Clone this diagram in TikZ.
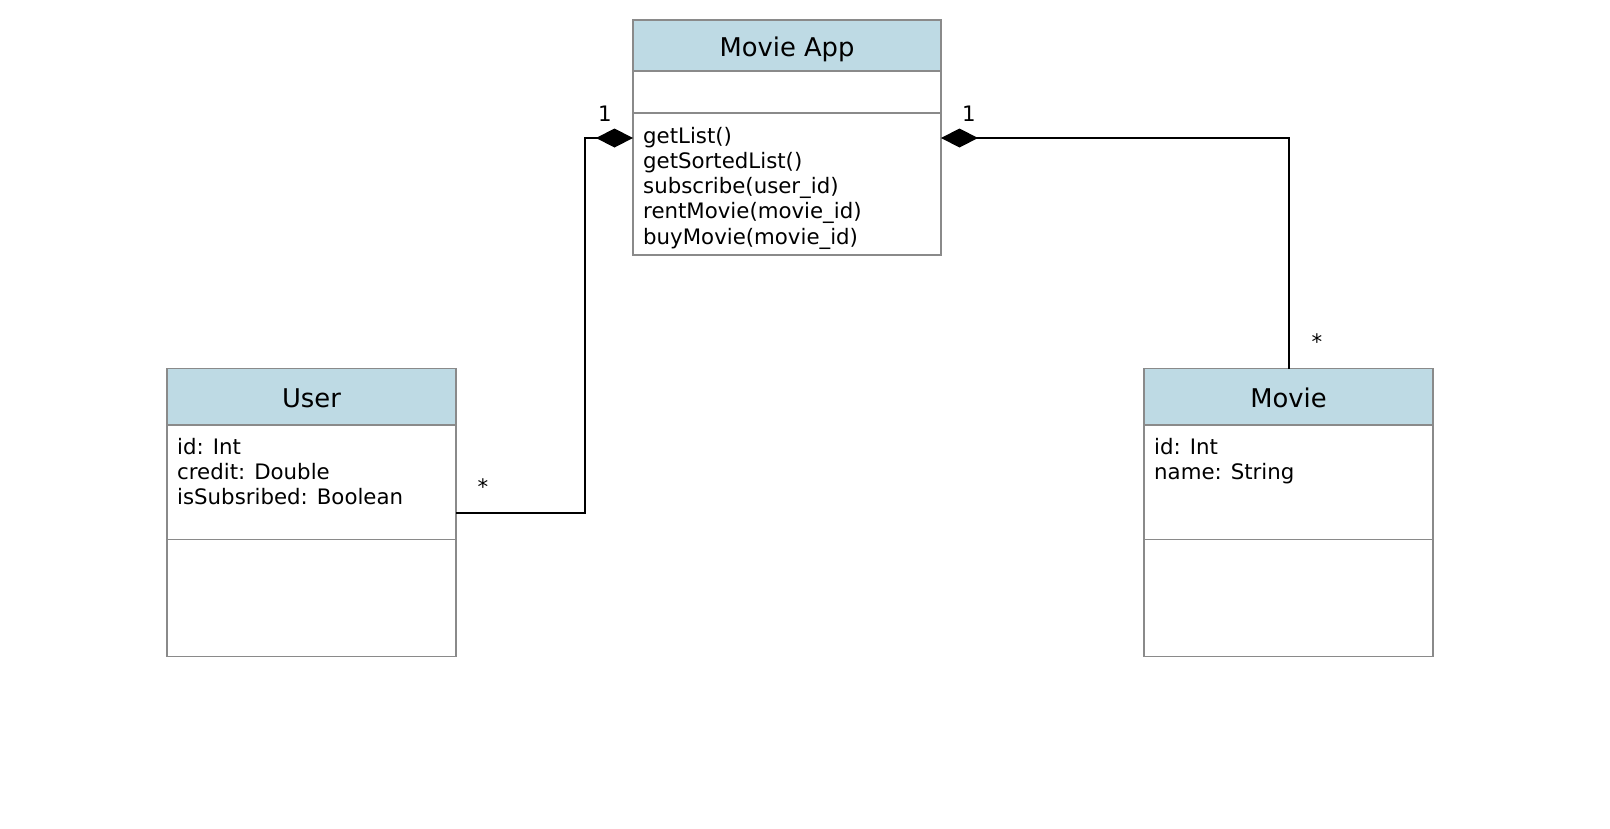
\documentclass[tikz,border=0pt]{standalone}
\usepackage{fontspec}
\setmainfont{DejaVu Sans}
\usetikzlibrary{positioning}
\usetikzlibrary{calc}
\usetikzlibrary{arrows.meta}
\definecolor{headblue}{RGB}{190,218,228}
\definecolor{boxgray}{RGB}{138,138,138}
\tikzset{
	class_part/.style = {
		rectangle,
		draw=boxgray,
		line width=1.5pt,
		fill=white,
		inner sep=0pt,
		outer sep=0pt
	},
	class_head/.style = {
		class_part,
		fill=headblue,
		text height=21pt,
		text depth=0pt,
		font=\fontsize{25.8}{30}\selectfont
	},
	class_text/.style = {
		align=left,
		inner sep=0pt,
		anchor=north west,
		font=\fontsize{21.3}{25.1}\selectfont
	},
	mult_label/.style = {
		inner sep=0pt,
		font=\fontsize{21.3}{24}\selectfont
	},
	composition/.style = {
		draw=black,
		line width=2pt,
		-{Diamond[length=37pt,width=19pt]}
	},
}

\begin{document}
\begin{tikzpicture}[x=1pt, y=-1pt]
\useasboundingbox (0,0) rectangle (1610,828);
\node [class_head, minimum width=308pt, minimum height=51pt, anchor=north west] (app_head) at (633,20) {Movie App};
\node [class_part, minimum width=308pt, minimum height=42pt, below=0pt of app_head] (app_attr) {};
\node [class_part, minimum width=308pt, minimum height=142pt, below=0pt of app_attr] (app_ops) {};
\node [class_text] (app_ops_text) at ($(app_ops.north west)+(10,14.3)$) {getList()\\getSortedList()\\subscribe(user\_id)\\rentMovie(movie\_id)\\buyMovie(movie\_id)};

\node [class_head, minimum width=289pt, minimum height=56.5pt, anchor=north west] (user_head) at (167,368.5) {User};
\node [class_part, minimum width=289pt, minimum height=114.5pt, below=0pt of user_head] (user_attr) {};
\node [class_part, minimum width=289pt, minimum height=117pt, below=0pt of user_attr] (user_ops) {};
\node [class_text] (user_attr_text) at ($(user_attr.north west)+(10,12.8)$) {id: Int\\credit: Double\\isSubsribed: Boolean};

\node [class_head, minimum width=289pt, minimum height=56.5pt, anchor=north west] (movie_head) at (1144,368.5) {Movie};
\node [class_part, minimum width=289pt, minimum height=114.5pt, below=0pt of movie_head] (movie_attr) {};
\node [class_part, minimum width=289pt, minimum height=117pt, below=0pt of movie_attr] (movie_ops) {};
\node [class_text] (movie_attr_text) at ($(movie_attr.north west)+(10,12.8)$) {id: Int\\name: String};

\draw [composition] ($(user_attr.south east)+(0,-27)$) -- ++(129,0) |- ($(app_ops.north west)+(0,25)$);
\draw [composition] (movie_head.north) |- ($(app_ops.north east)+(0,25)$);

\node [mult_label] (app_user_mult) at (605,114) {1};
\node [mult_label] (app_movie_mult) at (969,114) {1};
\node [mult_label] (user_mult) at (483,487) {*};
\node [mult_label] (movie_mult) at (1317,342) {*};
\end{tikzpicture}
\end{document}
